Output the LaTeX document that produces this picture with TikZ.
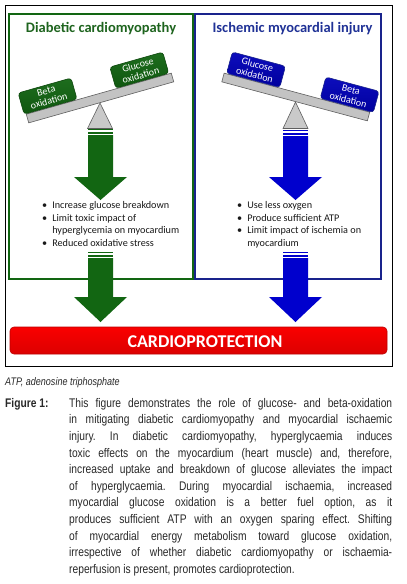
\documentclass[tikz,border=0pt]{standalone}
\usepackage{fontspec}
\setmainfont{Carlito}
\newfontfamily\capfont[FakeStretch=0.82]{Liberation Sans}
\usetikzlibrary{calc}
\definecolor{dgreen}{RGB}{18,102,18}
\definecolor{tgreen}{RGB}{30,100,30}
\definecolor{ablue}{RGB}{0,0,205}
\definecolor{bfill}{RGB}{0,0,185}
\definecolor{navy}{RGB}{32,50,150}
\definecolor{bborder}{RGB}{25,35,140}
\definecolor{barfill}{RGB}{195,195,195}
\definecolor{bardraw}{RGB}{95,95,95}
\definecolor{capgray}{RGB}{40,40,40}
\definecolor{cpred}{RGB}{250,0,0}
\newcommand\blkarrow[5]{%
 \fill[#5] (#1-12.5,#2) rectangle (#1+12.5,#2+1.3);
 \fill[#5] (#1-12.5,#2+2.8) rectangle (#1+12.5,#2+4.6);
 \fill[#5] (#1-12.5,#2+6) -- (#1+12.5,#2+6) -- (#1+12.5,#3) -- (#1+26.5,#3) -- (#1,#4) -- (#1-26.5,#3) -- (#1-12.5,#3) -- cycle;}
\begin{document}
\begin{tikzpicture}[x=1pt,y=-1pt,
 title/.style={font=\fontsize{14.5}{16}\selectfont\bfseries, inner sep=0pt, anchor=base},
 bar/.style={draw=bardraw, fill=barfill, line width=0.6pt, minimum width=150.7pt, minimum height=9pt, inner sep=0pt},
 ox/.style={rounded corners=3pt, minimum width=55pt, minimum height=22pt, inner sep=0.5pt, align=center, text=white, font=\fontsize{10}{10.5}\selectfont, anchor=south, line width=0.6pt},
 gox/.style={ox, top color=dgreen!95!white, bottom color=dgreen!85!black, draw=dgreen!70!black},
 box/.style={ox, top color=bfill!95!white, bottom color=bfill!85!black, draw=bborder},
 fulcrum/.style={fill=barfill!90!white, draw=bardraw, line width=0.6pt},
 bul/.style={font=\fontsize{10.2}{12.4}\selectfont, inner sep=0pt, anchor=north west, text=black!90},
 redbar/.style={rounded corners=4pt, top color=cpred, bottom color=cpred!88!black, draw=cpred!75!black, line width=0.6pt, minimum width=377pt, minimum height=27pt, inner sep=0pt},
 cptext/.style={font=\fontsize{18}{20}\selectfont\bfseries, text=white, inner sep=0pt, anchor=base},
 capnode/.style={text width=323pt, align=justify, inner sep=0pt, anchor=north west, text=capgray,
   font={\capfont\fontsize{12.5}{16.6}\selectfont\frenchspacing\tolerance=10000\hyphenpenalty=10000}},
]
\useasboundingbox (0,0) rectangle (407,584);
\fill[white] (0,0) rectangle (407,584);
% frames
\draw[line width=1pt] (5,5) rectangle (392,366);
\draw[dgreen, line width=1.3pt] (9,14) rectangle (193,279);
\draw[bborder, line width=1.3pt] (195,14) rectangle (381,279);
% titles
\node[title, text=tgreen] (t1) at (101,32.5) {Diabetic cardiomyopathy};
\node[title, text=navy] (t2) at (292.5,32.5) {Ischemic myocardial injury};
% arrows
\blkarrow{100.5}{129}{177}{200}{dgreen}
\blkarrow{100.5}{252}{297}{322}{dgreen}
\blkarrow{295.5}{130}{177}{200}{ablue}
\blkarrow{295.5}{252}{297}{322}{ablue}
% fulcrums
\coordinate (lapex) at (100,103);
\coordinate (rapex) at (295.5,102);
\draw[fulcrum] (lapex) -- (112.5,128.5) -- (87.5,128.5) -- cycle;
\draw[fulcrum] (rapex) -- (308,128.5) -- (283,128.5) -- cycle;
% bars
\node[bar, rotate=15.8] (lbar) at (100,98) {};
\node[bar, rotate=-15] (rbar) at (295.75,97) {};
% boxes
\node[gox, rotate=15.8] (lbeta) at ($(lbar.north west)!0.17!(lbar.north east)$) {Beta\\oxidation};
\node[gox, rotate=15.8] (lglu) at ($(lbar.north west)!0.80!(lbar.north east)$) {Glucose\\oxidation};
\node[box, rotate=-15] (rglu) at ($(rbar.north west)!0.20!(rbar.north east)$) {Glucose\\oxidation};
\node[box, rotate=-15] (rbeta) at ($(rbar.north west)!0.84!(rbar.north east)$) {Beta\\oxidation};
% bullets
\node[bul] (lbul) at (42,200) {\begin{tabular}{@{}l@{\hspace{5pt}}l@{}}
\textbullet & Increase glucose breakdown\\
\textbullet & Limit toxic impact of\\
 & hyperglycemia on myocardium\\
\textbullet & Reduced oxidative stress
\end{tabular}};
\node[bul] (rbul) at (237,200) {\begin{tabular}{@{}l@{\hspace{5pt}}l@{}}
\textbullet & Use less oxygen\\
\textbullet & Produce sufficient ATP\\
\textbullet & Limit impact of ischemia on\\
 & myocardium
\end{tabular}};
% cardioprotection
\node[redbar] (cp) at (198.5,340.5) {};
\node[cptext] (cpt) at (205,347) {CARDIOPROTECTION};
% caption
\node[anchor=west, inner sep=0pt, text=capgray, font=\capfont\fontsize{11}{13}\selectfont\itshape] (abbr) at (5,383) {ATP, adenosine triphosphate};
\node[anchor=north west, inner sep=0pt, text=capgray, font=\capfont\fontsize{12.5}{16.6}\selectfont\bfseries] (fig) at (5,398) {Figure 1:};
\node[capnode] (cap) at (69,398) {This figure demonstrates the role of glucose- and beta-oxidation\linebreak
in mitigating diabetic cardiomyopathy and myocardial ischaemic\linebreak
injury. In diabetic cardiomyopathy, hyperglycaemia induces\linebreak
toxic effects on the myocardium (heart muscle) and, therefore,\linebreak
increased uptake and breakdown of glucose alleviates the impact\linebreak
of hyperglycaemia. During myocardial ischaemia, increased\linebreak
myocardial glucose oxidation is a better fuel option, as it\linebreak
produces sufficient ATP with an oxygen sparing effect. Shifting\linebreak
of myocardial energy metabolism toward glucose oxidation,\linebreak
irrespective of whether diabetic cardiomyopathy or ischaemia-\linebreak
reperfusion is present, promotes cardioprotection.};
\end{tikzpicture}
\end{document}
